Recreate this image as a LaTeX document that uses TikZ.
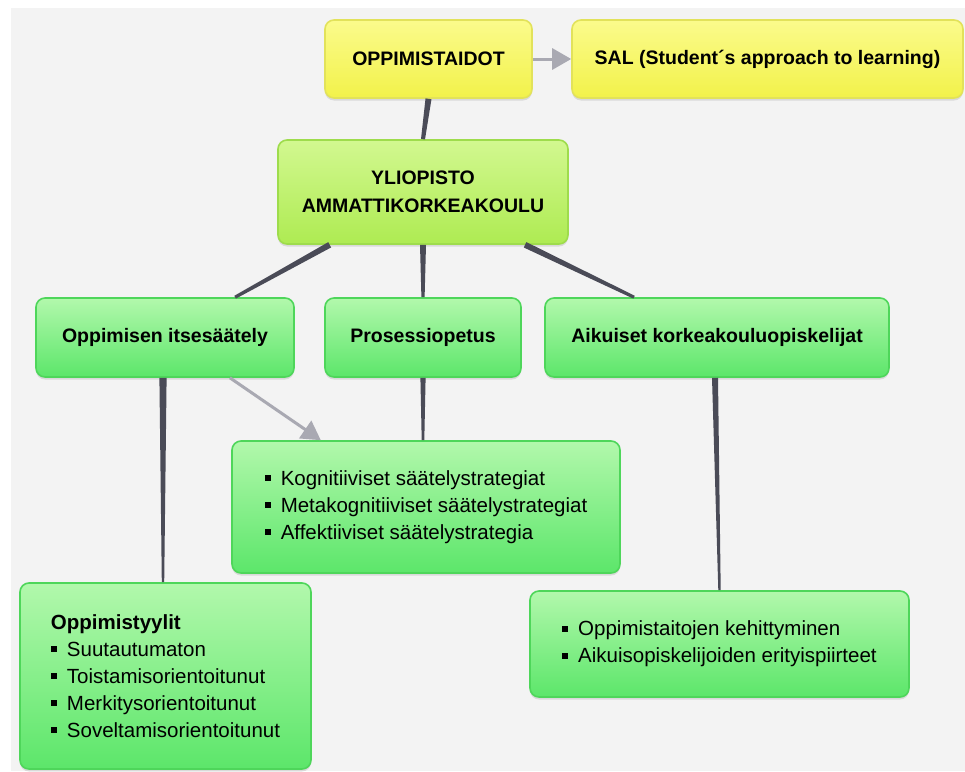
\documentclass[tikz,border=0pt]{standalone}
\usepackage{fontspec}
\setmainfont{Liberation Sans}
\usetikzlibrary{calc,shadows,arrows.meta}
\definecolor{bgc}{HTML}{F3F3F3}
\definecolor{ytop}{HTML}{FBFB8C}
\definecolor{ybot}{HTML}{F2F24A}
\definecolor{yborder}{HTML}{E2E25A}
\definecolor{ltop}{HTML}{D2F890}
\definecolor{lbot}{HTML}{AEEB52}
\definecolor{lborder}{HTML}{9EDC4C}
\definecolor{gtop}{HTML}{B2F8AC}
\definecolor{gbot}{HTML}{5CE66A}
\definecolor{gborder}{HTML}{4ED65A}
\definecolor{connc}{HTML}{4A4B57}
\definecolor{arrc}{HTML}{A9A9B2}
\newcommand\bul{\rule[0.2em]{6pt}{6pt}\hspace{10pt}}
\newcommand\tconn[4]{\fill[connc] ($(#1)!#3!90:(#2)$) -- ($(#1)!#3!-90:(#2)$) -- ($(#2)!#4!90:(#1)$) -- ($(#2)!#4!-90:(#1)$) -- cycle;}
\tikzset{
  box/.style={rounded corners=9pt, line width=1.6pt, inner sep=0pt,
    drop shadow={opacity=0.22, shadow xshift=0pt, shadow yshift=-2.5pt},
    align=center, font=\bfseries\fontsize{19.5}{28}\selectfont},
  ybox/.style={box, draw=yborder, top color=ytop, bottom color=ybot},
  lbox/.style={box, draw=lborder, top color=ltop, bottom color=lbot},
  gbox/.style={box, draw=gborder, top color=gtop, bottom color=gbot},
  lbox2/.style={gbox, align=left, font=\fontsize{20.5}{27}\selectfont},
  garrow/.style={draw=arrc, line width=3pt, -{Triangle[length=19pt,width=21pt]}, color=arrc},
}
\begin{document}
\begin{tikzpicture}[x=1pt,y=-1pt]
\useasboundingbox (0,0) rectangle (965,771);
\fill[white] (0,0) rectangle (965,771);
\fill[bgc] (11,8) rectangle (965,771);

\node[ybox, minimum width=207pt, minimum height=78pt] (opp) at (428.5,59) {OPPIMISTAIDOT};
\node[ybox, minimum width=391pt, minimum height=78pt] (sal) at (767.5,59) {SAL (Student´s approach to learning)};
\node[lbox, minimum width=290pt, minimum height=104pt] (yl) at (423,192) {YLIOPISTO\\AMMATTIKORKEAKOULU};
\node[gbox, minimum width=258pt, minimum height=79pt] (its) at (165,337.5) {Oppimisen itsesäätely};
\node[gbox, minimum width=196pt, minimum height=79pt] (pro) at (423,337.5) {Prosessiopetus};
\node[gbox, minimum width=344pt, minimum height=79pt] (aik) at (717,337.5) {Aikuiset korkeakouluopiskelijat};
\node[lbox2, minimum width=388pt, minimum height=132pt] (kog) at (426,507)
  {\bul Kognitiiviset säätelystrategiat\\\bul Metakognitiiviset säätelystrategiat\\\bul Affektiiviset säätelystrategia};
\node[lbox2, minimum width=291pt, minimum height=186pt] (sty) at (165.5,676)
  {\textbf{Oppimistyylit}\\\bul Suutautumaton\\\bul Toistamisorientoitunut\\\bul Merkitysorientoitunut\\\bul Soveltamisorientoitunut};
\node[lbox2, minimum width=379pt, minimum height=106pt] (opt) at (719.5,644)
  {\bul Oppimistaitojen kehittyminen\\\bul Aikuisopiskelijoiden erityispiirteet};

% connectors (tapered)
\tconn{opp.south}{yl.north}{3pt}{2pt}
\tconn{$(yl.south west)!0.18!(yl.south east)$}{$(its.north west)!0.77!(its.north east)$}{3pt}{1.6pt}
\tconn{yl.south}{pro.north}{3pt}{1.6pt}
\tconn{$(yl.south west)!0.85!(yl.south east)$}{$(aik.north west)!0.26!(aik.north east)$}{3pt}{1.6pt}
\tconn{$(its.south)+(-2,0)$}{$(sty.north)+(-2.5,0)$}{3.6pt}{1.2pt}
\tconn{pro.south}{pro.south |- kog.north}{2.6pt}{1.3pt}
\tconn{$(aik.south)+(-2,0)$}{opt.north}{3pt}{1.2pt}

% grey arrows
\draw[garrow] (opp.east) -- (sal.west);
\draw[garrow] ($(its.south west)!0.75!(its.south east)$) -- ($(kog.north west)!0.23!(kog.north east)$);
\end{tikzpicture}
\end{document}
